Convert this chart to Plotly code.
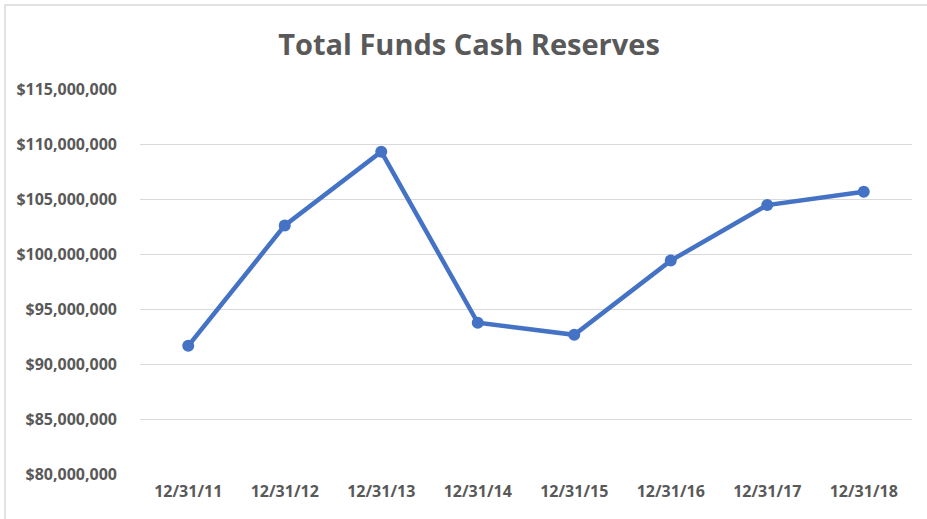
import plotly.graph_objects as go

dates = ["12/31/11", "12/31/12", "12/31/13", "12/31/14", "12/31/15", "12/31/16", "12/31/17", "12/31/18"]
reserves = [91650000, 102600000, 109300000, 93750000, 92650000, 99400000, 104450000, 105650000]
y_ticks = [80000000, 85000000, 90000000, 95000000, 100000000, 105000000, 110000000, 115000000]
y_tick_labels = ["${:,.0f}".format(v) for v in y_ticks]

FONT = "Open Sans"
GREY = "#595959"

W, H = 927, 519
L, R, T, B = 140, 15, 89, 45
pw, ph = W - L - R, H - T - B

fig = go.Figure()
fig.add_trace(go.Scatter(
    x=dates, y=reserves, mode="lines+markers",
    line=dict(color="#4472C4", width=4.5),
    marker=dict(color="#4472C4", size=12),
    showlegend=False,
))

fig.update_layout(
    width=W, height=H,
    margin=dict(l=L, r=R, t=T, b=B),
    paper_bgcolor="white", plot_bgcolor="white",
    title=dict(text="<b>Total Funds Cash Reserves</b>", x=469 / W, xanchor="center",
               y=1 - 45 / H, yanchor="middle",
               font=dict(family=FONT, size=29, color=GREY)),
    xaxis=dict(type="category", range=[-0.5, 7.5], showgrid=False, zeroline=False,
               showline=False, ticks="", tickvals=dates,
               ticktext=["<b>%s</b>" % d for d in dates],
               ticklabelstandoff=6,
               tickfont=dict(family=FONT, size=16, color=GREY)),
    yaxis=dict(range=[80000000, 115000000], tickvals=y_ticks,
               ticktext=["<b>%s</b>" % t for t in y_tick_labels],
               showgrid=True, gridcolor="#D9D9D9", gridwidth=1, zeroline=False,
               showline=False, ticks="", ticklabelstandoff=22,
               tickfont=dict(family=FONT, size=16, color=GREY)),
    font=dict(family=FONT, color=GREY),
)

# chart border (Excel chart area outline)
fig.add_shape(type="rect", xref="paper", yref="paper",
              x0=(5 - L) / pw, x1=(W + 20 - L) / pw,
              y0=(H - B - (H + 20)) / ph, y1=(H - B - 5) / ph,
              line=dict(color="#D9D9D9", width=1.5), fillcolor="rgba(0,0,0,0)", layer="below")

fig.write_html("out.html", config={"displayModeBar": False},
               post_script="document.body.style.margin='0';")
